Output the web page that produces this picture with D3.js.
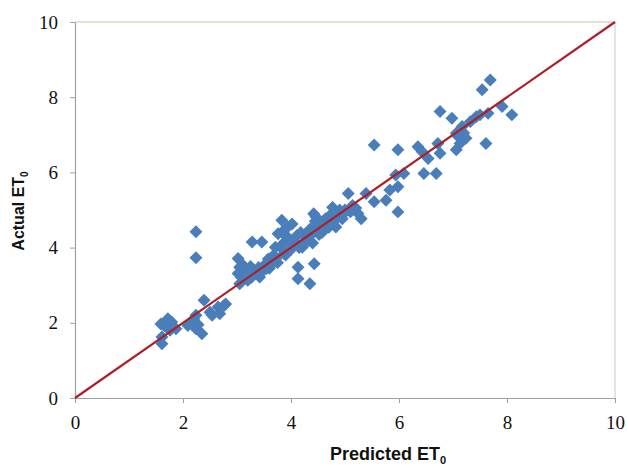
<!DOCTYPE html>
<html>
<head>
<meta charset="utf-8">
<script src="https://cdn.jsdelivr.net/npm/d3@7"></script>
<style>
  body { margin: 0; background: #fff; }
</style>
</head>
<body>
<div id="chart"></div>
<script>
// Predicted vs actual ET0 values (same order in both arrays)
const predicted = [
  1.61, 1.61, 1.65, 1.72, 1.79, 1.87, 1.76, 1.59, 2.09, 2.16, 2.24, 2.24, 2.35, 2.39, 2.24, 2.24, 2.50, 2.54, 2.68, 2.76, 2.65, 2.79,
  3.02, 3.02, 3.05, 3.05, 3.13, 3.20, 3.28, 3.46, 3.31, 3.42, 3.54, 3.65, 3.72, 3.76, 3.83, 3.94, 3.80, 3.87, 3.98, 4.13, 4.13, 4.35,
  4.43, 4.24, 4.39, 4.46, 4.54, 4.68, 4.76, 4.83, 4.98, 5.06, 5.13, 5.24, 5.39,
  3.27, 3.21, 3.64, 3.71, 3.96, 4.21, 4.33, 4.58, 4.70, 4.95, 5.30, 4.77, 5.14, 4.42, 4.64, 4.02, 4.11, 3.83, 3.40, 3.08, 3.52, 3.90,
  4.05, 4.50, 4.60, 3.35, 4.28, 4.88, 5.00,
  3.10, 3.15, 3.25, 3.45, 3.60, 3.68, 3.75, 3.85, 3.92, 4.00, 4.08, 4.15, 4.18, 4.26, 4.36, 4.45, 4.52, 4.62, 4.72, 4.80, 4.90, 5.10,
  5.20, 4.40, 3.58, 1.68, 1.75, 2.20, 2.28,
  5.54, 5.54, 5.76, 5.83, 5.98, 5.98, 5.94, 5.98, 6.09, 6.35, 6.43, 6.46, 6.54, 6.69, 6.72, 6.76, 6.76, 6.98, 7.06, 7.06, 7.13, 7.17,
  7.24, 7.32, 7.43, 7.50, 7.54, 7.61, 7.65, 7.69, 7.91, 8.09, 7.10, 7.20
];
const actual = [
  1.44, 1.62, 1.93, 2.11, 2.02, 1.84, 1.80, 1.97, 1.93, 2.02, 2.20, 1.84, 1.71, 2.60, 4.42, 3.73, 2.28, 2.20, 2.24, 2.46, 2.42, 2.50,
  3.71, 3.31, 3.04, 3.48, 3.40, 3.13, 4.15, 4.15, 3.40, 3.22, 3.44, 3.57, 3.71, 4.37, 4.73, 4.55, 4.02, 3.84, 4.20, 3.48, 3.17, 3.04,
  3.57, 4.11, 4.37, 4.82, 4.64, 4.73, 4.91, 4.55, 4.91, 5.44, 5.08, 4.91, 5.44,
  3.21, 3.39, 3.65, 4.01, 3.92, 4.01, 4.19, 4.41, 4.54, 4.77, 4.77, 5.07, 5.12, 4.90, 4.77, 4.63, 4.32, 4.41, 3.47, 3.21, 3.55, 3.80,
  4.05, 4.45, 4.60, 3.30, 4.20, 4.85, 5.00,
  3.55, 3.25, 3.50, 3.35, 3.45, 3.80, 3.60, 4.10, 4.30, 3.95, 4.15, 4.00, 4.40, 4.35, 4.50, 4.70, 4.35, 4.50, 4.85, 4.70, 5.00, 4.95,
  5.05, 4.12, 3.70, 1.90, 2.05, 2.10, 1.95,
  6.73, 5.22, 5.26, 5.53, 4.95, 5.62, 5.93, 6.60, 5.97, 6.68, 6.55, 5.97, 6.37, 5.97, 6.77, 6.51, 7.62, 7.44, 7.04, 6.60, 6.77, 7.22,
  6.91, 7.35, 7.48, 7.53, 8.20, 6.77, 7.57, 8.46, 7.75, 7.53, 6.95, 7.05
];
const xTicks = [0, 2, 4, 6, 8, 10];
const yTicks = [0, 2, 4, 6, 8, 10];
const oneToOne = [0, 10];

const data = predicted.map((p, i) => ({ p: p, a: actual[i] }));

// Chart size and plot area
const W = 627, H = 472;
const margin = { top: 22, right: 12, bottom: 74, left: 75 };
const width = W - margin.left - margin.right;
const height = H - margin.top - margin.bottom;

const svg = d3.select("#chart")
  .append("svg")
  .attr("width", W)
  .attr("height", H);

const g = svg.append("g")
  .attr("transform", `translate(${margin.left},${margin.top})`);

const x = d3.scaleLinear().domain([0, 10]).range([0, width]);
const y = d3.scaleLinear().domain([0, 10]).range([height, 0]);

// Plot area border (top / right)
g.append("line")
  .attr("x1", 0).attr("x2", width).attr("y1", 0).attr("y2", 0)
  .attr("stroke", "#c9c3a0").attr("stroke-width", 1);
g.append("line")
  .attr("x1", width).attr("x2", width).attr("y1", 0).attr("y2", height)
  .attr("stroke", "#c8c8c8").attr("stroke-width", 1);

// Axes
const xAxis = g.append("g")
  .attr("transform", `translate(0,${height})`)
  .call(d3.axisBottom(x).tickValues(xTicks).tickSize(5).tickPadding(22).tickSizeOuter(0));
const yAxis = g.append("g")
  .call(d3.axisLeft(y).tickValues(yTicks).tickSize(5).tickPadding(12).tickSizeOuter(0));

[xAxis, yAxis].forEach(a => {
  a.select(".domain").attr("stroke", "#a0a0a0").attr("stroke-width", 1.2);
  a.selectAll(".tick line").attr("stroke", "#a0a0a0");
  a.selectAll(".tick text")
    .attr("fill", "#111")
    .style("font-family", "'Liberation Serif', serif")
    .style("font-size", "19px");
});
xAxis.selectAll(".tick text").attr("dy", "0.2em");

// Diamond markers
const diamond = d3.symbol().type(d3.symbolSquare).size(84);
g.append("g")
  .selectAll("path")
  .data(data)
  .join("path")
  .attr("d", diamond)
  .attr("transform", d => `translate(${x(d.p)},${y(d.a)}) rotate(45)`)
  .attr("fill", "#4a7ebb");

// 1:1 line
g.append("line")
  .attr("x1", x(oneToOne[0])).attr("y1", y(oneToOne[0]))
  .attr("x2", x(oneToOne[1])).attr("y2", y(oneToOne[1]))
  .attr("stroke", "#ad1f26")
  .attr("stroke-width", 2.2);

// Axis titles
const xTitle = svg.append("text")
  .attr("x", 388)
  .attr("y", 460)
  .attr("text-anchor", "middle")
  .style("font-family", "'Liberation Sans', sans-serif")
  .style("font-weight", "bold")
  .style("font-size", "18px")
  .attr("fill", "#111");
xTitle.append("tspan").text("Predicted ET");
xTitle.append("tspan").attr("dy", 4).style("font-size", "11px").text("0");

const yTitle = svg.append("text")
  .attr("transform", `translate(24,211) rotate(-90)`)
  .attr("text-anchor", "middle")
  .style("font-family", "'Liberation Sans', sans-serif")
  .style("font-weight", "bold")
  .style("font-size", "16px")
  .attr("fill", "#111");
yTitle.append("tspan").text("Actual ET");
yTitle.append("tspan").attr("dy", 4).style("font-size", "10px").text("0");
</script>
</body>
</html>
